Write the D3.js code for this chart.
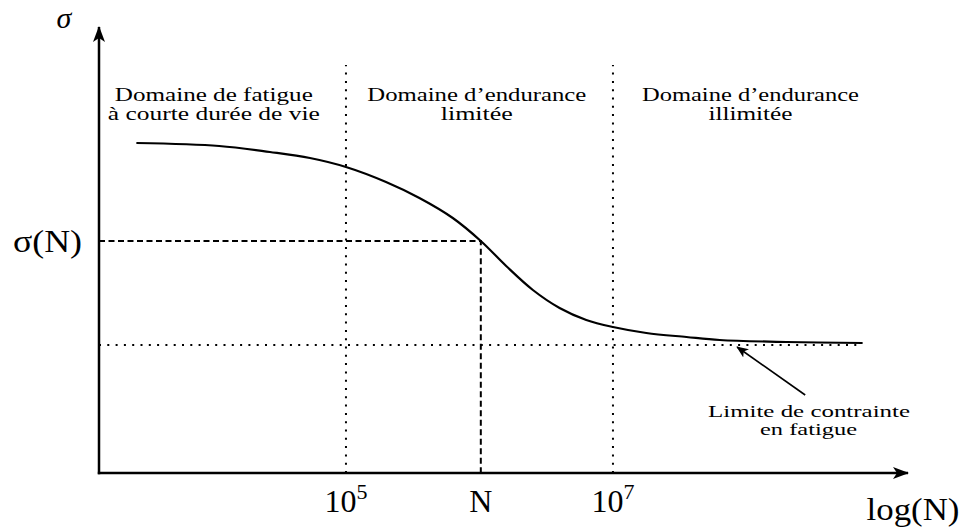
<!DOCTYPE html>
<html><head><meta charset="utf-8">
<script src="https://cdn.jsdelivr.net/npm/d3@7"></script>
<style>body{margin:0;background:#fff}svg text{font-family:"Liberation Serif","DejaVu Serif",serif;fill:#000}</style>
</head><body><svg id="c" width="962" height="530"></svg>
<script>
// log10(N) values along the Wöhler curve
const logN = [3.43, 4.05, 4.43, 4.73, 5.0, 5.3, 5.55, 5.8, 6.01, 6.2, 6.4, 6.6, 6.8, 7.0, 7.25, 7.55, 7.8, 8.3, 8.87];
// stress values (arbitrary units)
const sigma = [330, 327, 321, 315, 306, 291, 275, 255, 232, 207, 183, 165, 153, 146, 140, 136, 133, 131, 130];
const tickLogs = [5, 6.01, 7];
const tickLabels = ["10^5", "N", "10^7"];
const boundaries = [5, 7];
const sigmaN = 232;
const enduranceLimit = 128;
const regionCenters = [4.01, 5.98, 8.03];
const regionLines1 = ["Domaine de fatigue", "Domaine d\u2019endurance", "Domaine d\u2019endurance"];
const regionLines2 = ["\u00e0 courte dur\u00e9e de vie", "limit\u00e9e", "illimit\u00e9e"];
const annotLines = ["Limite de contrainte", "en fatigue"];

const svg = d3.select("#c");
const x = d3.scaleLinear().domain([3.15, 9.21]).range([99, 908]);
const y = d3.scaleLinear().domain([0, 446]).range([473, 27]);
const x0 = x.range()[0], y0 = y.range()[0];

function txt(px, py, s, size, len, anchor) {
  const t = svg.append("text").attr("x", px).attr("y", py).attr("text-anchor", anchor || "middle")
    .attr("font-size", size).text(s);
  if (len) t.attr("textLength", len).attr("lengthAdjust", "spacingAndGlyphs");
  return t;
}

// arrow markers
const defs = svg.append("defs");
defs.append("marker").attr("id","ah").attr("viewBox","0 0 16 12").attr("refX",15).attr("refY",6)
  .attr("markerWidth",16).attr("markerHeight",12).attr("markerUnits","userSpaceOnUse").attr("orient","auto")
  .append("path").attr("d","M0,0 L16,6 L0,12 L4,6 Z").attr("fill","#000");
defs.append("marker").attr("id","ahs").attr("viewBox","0 0 12 10").attr("refX",11).attr("refY",5)
  .attr("markerWidth",12).attr("markerHeight",10).attr("markerUnits","userSpaceOnUse").attr("orient","auto")
  .append("path").attr("d","M0,0 L12,5 L0,10 L3,5 Z").attr("fill","#000");

// dotted verticals
boundaries.forEach(b => {
  svg.append("line").attr("x1",x(b)).attr("x2",x(b)).attr("y1",y0).attr("y2",65)
    .attr("stroke","#000").attr("stroke-width",2).attr("stroke-dasharray","2,6.3");
});
// dotted endurance limit
svg.append("line").attr("x1",x0).attr("x2",x(logN[logN.length-1])).attr("y1",y(enduranceLimit)).attr("y2",y(enduranceLimit))
  .attr("stroke","#000").attr("stroke-width",2).attr("stroke-dasharray","2,6.3");

// dashed sigma(N)
svg.append("path").attr("d",`M${x0},${y(sigmaN)} H${x(tickLogs[1])} V${y0}`)
  .attr("fill","none").attr("stroke","#000").attr("stroke-width",2).attr("stroke-dasharray","6,3.5");

// curve
const pts = logN.map((l,i)=>[l, sigma[i]]);
svg.append("path").datum(pts)
  .attr("d", d3.line().x(d=>x(d[0])).y(d=>y(d[1])).curve(d3.curveCatmullRom.alpha(0.5)))
  .attr("fill","none").attr("stroke","#000").attr("stroke-width",2.2);

// axes
svg.append("line").attr("x1",x0).attr("y1",y0+1.2).attr("x2",x0).attr("y2",27)
  .attr("stroke","#000").attr("stroke-width",2.5).attr("marker-end","url(#ah)");
svg.append("line").attr("x1",x0-1.2).attr("y1",y0).attr("x2",908).attr("y2",y0)
  .attr("stroke","#000").attr("stroke-width",2.5).attr("marker-end","url(#ah)");

// tick labels
tickLabels.forEach((t,i) => {
  const tx = svg.append("text").attr("x", x(tickLogs[i])).attr("y", 512).attr("text-anchor","middle").attr("font-size",32);
  if (t.includes("^")) {
    const [b,e] = t.split("^");
    tx.append("tspan").text(b);
    tx.append("tspan").attr("dy",-13).attr("font-size",22).text(e);
  } else tx.text(t);
});

// axis titles
txt(913, 520, "log(N)", 31, 93);
txt(64, 28, "\u03c3", 30).attr("font-style","italic");
txt(47.5, y(sigmaN)+11, "\u03c3(N)", 31, 69);

// region labels
const w1 = [198, 219, 217], w2 = [212, 72, 84];
regionCenters.forEach((c,i) => {
  txt(x(c), 101, regionLines1[i], 18, w1[i]);
  txt(x(c), 120, regionLines2[i], 18, w2[i]);
});

// annotation
svg.append("line").attr("x1",x(8.44)).attr("y1",y(78)).attr("x2",x(7.93)).attr("y2",y(126))
  .attr("stroke","#000").attr("stroke-width",1.6).attr("marker-end","url(#ahs)");
txt(809, 417, annotLines[0], 16, 202);
txt(808.5, 435, annotLines[1], 16, 97);
</script></body></html>
